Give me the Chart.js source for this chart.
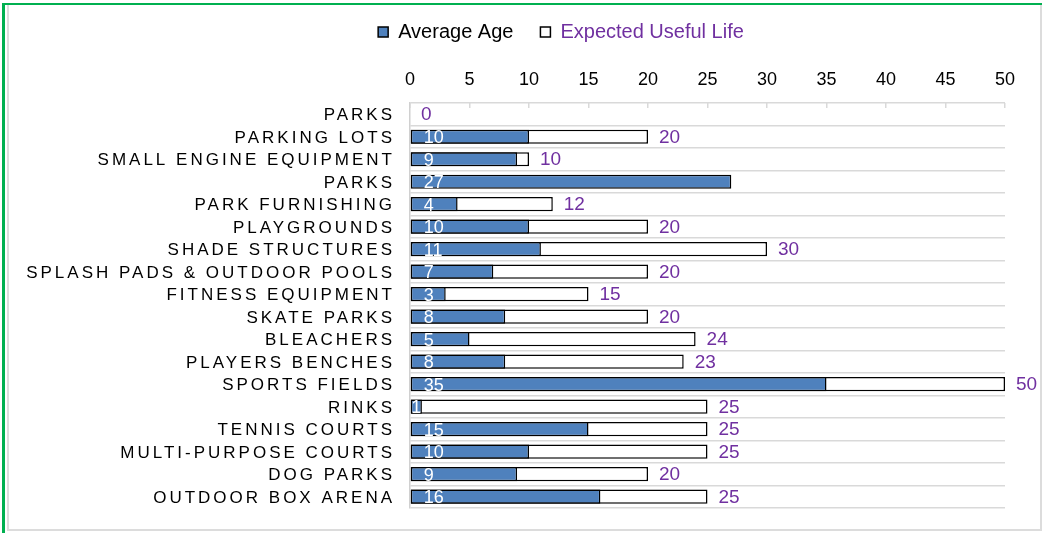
<!DOCTYPE html>
<html>
<head>
<meta charset="utf-8">
<script src="https://cdn.jsdelivr.net/npm/chart.js@4/dist/chart.umd.min.js"></script>
<style>
  body { margin: 0; background: #fff; }
  #wrap { position: relative; width: 1042px; height: 533px; overflow: hidden; }
  #frame { position: absolute; left: 2px; top: 3px; right: -20px; bottom: -20px;
           border-left: 3px solid #00b050; border-top: 2px solid #00b050; pointer-events: none; }
  #inner { position: absolute; left: 7px; top: 5px; width: 1031px; height: 524px;
           border: 2px solid #dcdcdc; border-top: none; pointer-events: none; }
</style>
</head>
<body>
<div id="wrap">
  <canvas id="ageChart" width="1042" height="533"></canvas>
  <div id="inner"></div>
  <div id="frame"></div>
</div>
<script>
let categories = ['PARKS', 'PARKING LOTS', 'SMALL ENGINE EQUIPMENT', 'PARKS', 'PARK FURNISHING',
    'PLAYGROUNDS', 'SHADE STRUCTURES', 'SPLASH PADS & OUTDOOR POOLS', 'FITNESS EQUIPMENT',
    'SKATE PARKS', 'BLEACHERS', 'PLAYERS BENCHES', 'SPORTS FIELDS', 'RINKS', 'TENNIS COURTS',
    'MULTI-PURPOSE COURTS', 'DOG PARKS', 'OUTDOOR BOX ARENA'];
let average_age = [null, 10, 9, 27, 4, 10, 11, 7, 3, 8, 5, 8, 35, 1, 15, 10, 9, 16];
let useful_life = [0, 20, 10, null, 12, 20, 30, 20, 15, 20, 24, 23, 50, 25, 25, 25, 20, 25];
let x_max = 50;
let x_step = 5;

const FONT = "'Liberation Sans', Arial, sans-serif";
const PURPLE = '#7030a0';

// category labels are drawn letter-spaced; legend is centred a bit right of the canvas middle
const spacedLabels = {
    id: 'spacedLabels',
    beforeDraw(chart) {
        chart.legend.left = 117;
        let y = chart.scales.y;
        if (y._spaced) return;
        let draw = y.drawLabels;
        y.drawLabels = function (area) {
            chart.ctx.save();
            chart.ctx.letterSpacing = '3px';
            chart.ctx.translate(0, 1.5);
            draw.call(this, area);
            chart.ctx.restore();
        };
        y._spaced = true;
    }
};

// value labels: white inside the base of the age bar, purple after the life bar
const barLabels = {
    id: 'barLabels',
    afterDatasetsDraw(chart) {
        let ctx = chart.ctx;
        ctx.save();
        ctx.textBaseline = 'middle';
        ctx.textAlign = 'left';
        ctx.font = '18px ' + FONT;
        chart.getDatasetMeta(0).data.forEach((bar, i) => {
            let v = average_age[i];
            if (v === null) return;
            let txt = String(v);
            let w = ctx.measureText(txt).width;
            let bw = bar.x - bar.base;
            let x = bar.base + 13;
            if (w + 13 > bw) x = bar.base + (bw - w) / 2;
            ctx.fillStyle = '#ffffff';
            ctx.fillText(txt, x, bar.y + 1.5);
        });
        ctx.font = '19px ' + FONT;
        chart.getDatasetMeta(1).data.forEach((bar, i) => {
            let v = useful_life[i];
            if (v === null) return;
            ctx.fillStyle = PURPLE;
            ctx.fillText(String(v), bar.x + 11, bar.y + 1);
        });
        ctx.restore();
    }
};

let ctx1 = document.getElementById('ageChart');
let ageChart = new Chart(ctx1, {
    type: 'bar',
    data: {
        labels: categories,
        datasets: [{
            label: 'Average Age',
            data: average_age,
            backgroundColor: '#4f81bd',
            borderColor: '#000000',
            borderWidth: 1.5,
            borderSkipped: false,
            grouped: false,
            categoryPercentage: 1,
            barPercentage: 0.63
        }, {
            label: 'Expected Useful Life',
            data: useful_life,
            backgroundColor: '#ffffff',
            borderColor: '#000000',
            borderWidth: (c) => (c.raw === 0 ? 0 : 1.5),
            borderSkipped: false,
            grouped: false,
            categoryPercentage: 1,
            barPercentage: 0.63
        }]
    },
    options: {
        indexAxis: 'y',
        responsive: false,
        maintainAspectRatio: false,
        animation: false,
        layout: { padding: { top: -5, left: 5, right: 37, bottom: 25 } },
        scales: {
            x: {
                position: 'top',
                min: 0,
                max: x_max,
                afterFit: (s) => { s.height = 51; },
                ticks: { stepSize: x_step, color: '#000', padding: 17, font: { size: 18, family: FONT } },
                grid: { drawOnChartArea: false, drawTicks: true, tickLength: -5, color: '#d9d9d9', lineWidth: 1.5 },
                border: { display: false }
            },
            y: {
                afterFit: (s) => { s.width = 405; },
                ticks: { color: '#000', padding: 15, autoSkip: false, font: { size: 17, family: FONT } },
                grid: { offset: true, color: '#d9d9d9', lineWidth: 1.5, drawTicks: false },
                border: { color: '#d0d0d0', width: 1.5 }
            }
        },
        plugins: {
            legend: {
                position: 'top',
                labels: {
                    boxWidth: 10,
                    boxHeight: 10,
                    padding: 27,
                    color: '#000',
                    font: { size: 20, family: FONT },
                    generateLabels(chart) {
                        let items = Chart.defaults.plugins.legend.labels.generateLabels(chart);
                        items.forEach((it) => { it.lineWidth = 1.5; it.strokeStyle = '#000'; });
                        items[1].fontColor = PURPLE;
                        return items;
                    }
                }
            },
            tooltip: { enabled: false }
        }
    },
    plugins: [spacedLabels, barLabels]
});
</script>
</body>
</html>
